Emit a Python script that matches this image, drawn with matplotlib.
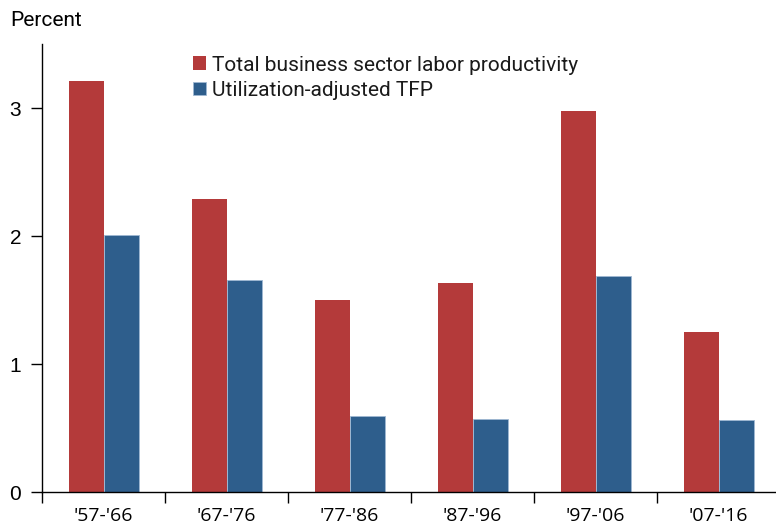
import matplotlib
matplotlib.use("Agg")
import matplotlib.pyplot as plt
import numpy as np

periods = ["'57-'66", "'67-'76", "'77-'86", "'87-'96", "'97-'06", "'07-'16"]
labor_productivity = [3.21, 2.29, 1.50, 1.63, 2.98, 1.25]
util_adj_tfp = [2.01, 1.66, 0.59, 0.57, 1.69, 0.56]
series_names = ["Total business sector labor productivity", "Utilization-adjusted TFP"]
red = "#B43A3A"
blue = "#2E5E8C"

fig = plt.figure(figsize=(7.76, 5.29), dpi=100)
ax = fig.add_axes([42/776, 1-492/529, 1-42/776+0.005, 448/529])

x = np.arange(len(periods))
w = 0.285
ax.bar(x + 0.36, labor_productivity, width=w, color=red, label=series_names[0])
ax.bar(x + 0.645, util_adj_tfp, width=w, color=blue, label=series_names[1],
       edgecolor="#9fb8d3", linewidth=0.6)

ax.set_xlim(0, len(periods))
ax.set_ylim(0, 3.5)
ax.set_yticks([0, 1, 2, 3])
ax.set_yticklabels(["0", "1", "2", "3"], family="Liberation Sans", fontsize=15)
ax.set_xticks(np.arange(len(periods)))
ax.set_xticklabels([])
ax.set_xticks(x + 0.5, minor=True)
ax.set_xticklabels(periods, minor=True, family="Open Sans", fontsize=14)
ax.tick_params(axis="x", which="major", length=8, width=1, direction="out")
ax.tick_params(axis="x", which="minor", length=0, pad=11)
ax.tick_params(axis="y", length=8, width=1, pad=7)
for s in ["top", "right"]:
    ax.spines[s].set_visible(False)
ax.spines["left"].set_linewidth(1)
ax.spines["bottom"].set_linewidth(1)

leg = ax.legend(loc="upper left", bbox_to_anchor=(0.179, 1.016), frameon=False,
                prop={"family": "Roboto", "size": 15}, handlelength=0.62,
                handleheight=0.62, handletextpad=0.3, labelspacing=0.3)
for t in leg.get_texts():
    t.set_color("#1a1a1a")

fig.text(10/776, 1-20/529, "Percent", family="Roboto", fontsize=15, va="center", ha="left")

fig.savefig("out.png", dpi=100)
